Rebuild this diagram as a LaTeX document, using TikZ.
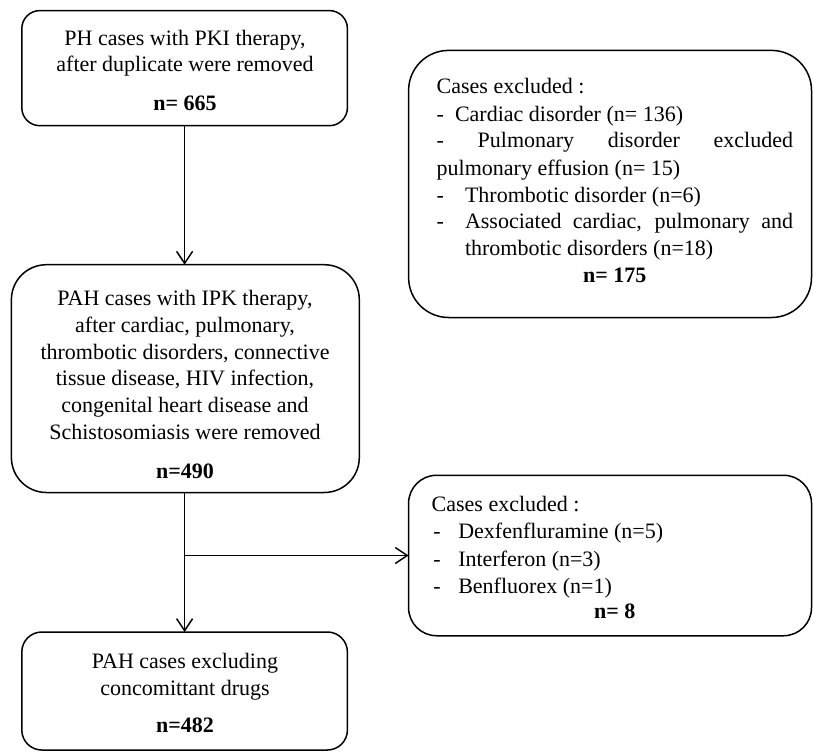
\documentclass[tikz,border=0pt]{standalone}
\usepackage{fontspec}
\setmainfont{Liberation Serif}
\usetikzlibrary{arrows.meta}
\begin{document}
\begin{tikzpicture}[x=1pt,y=-1pt,
  box/.style={draw=black, line width=1.5pt, rectangle, inner sep=0pt, outer sep=0pt},
  txt/.style={inner sep=0pt, outer sep=0pt, font=\fontsize{22}{27}\selectfont},
  bld/.style={inner sep=0pt, outer sep=0pt, font=\fontsize{22}{27}\selectfont\bfseries},
  arr/.style={line width=1.5pt, -{Straight Barb[length=12pt,width=16pt]}}]
\useasboundingbox (0,0) rectangle (813,752);

% boxes
\node[box, rounded corners=18pt, minimum width=325.6pt, minimum height=115.1pt] (b1) at (184.6,68.15) {};
\node[box, rounded corners=40pt, minimum width=402.9pt, minimum height=267.1pt] (b2) at (610.05,183.95) {};
\node[box, rounded corners=35pt, minimum width=347.9pt, minimum height=227.8pt] (b3) at (185.35,378.6) {};
\node[box, rounded corners=28pt, minimum width=402.9pt, minimum height=160.5pt] (b4) at (610.05,555.5) {};
\node[box, rounded corners=20pt, minimum width=325.6pt, minimum height=118pt] (b5) at (184.6,691) {};

% box 1 text
\node[txt, anchor=base] (t1a) at (185,45.3) {PH cases with PKI therapy,};
\node[txt, anchor=base] (t1b) at (185,71.7) {after duplicate were removed};
\node[bld, anchor=base] (t1c) at (185,110) {n= 665};

% box 2 text
\node[txt, anchor=base west] (t2a) at (436.7,93.3) {Cases excluded :};
\node[txt, anchor=base west] (t2b) at (436.7,121) {-};
\node[txt, anchor=base west] (t2bb) at (455,121) {Cardiac disorder (n= 136)};
\node[txt, anchor=base west] (t2c) at (436.7,147.8) {\makebox[356.3pt][s]{-\hfill Pulmonary\hfill disorder\hfill excluded}};
\node[txt, anchor=base west] (t2d) at (436.7,175) {pulmonary effusion (n= 15)};
\node[txt, anchor=base west] (t2e) at (436.7,202) {-};
\node[txt, anchor=base west] (t2ee) at (465,202) {Thrombotic disorder (n=6)};
\node[txt, anchor=base west] (t2f) at (436.7,228.6) {-};
\node[txt, anchor=base west] (t2ff) at (465,228.6) {\makebox[328pt][s]{Associated cardiac, pulmonary and}};
\node[txt, anchor=base west] (t2g) at (465,255) {thrombotic disorders (n=18)};
\node[bld, anchor=base] (t2h) at (614.7,282.3) {n= 175};

% box 3 text
\node[txt, anchor=base] (t3a) at (185,305.3) {PAH cases with IPK therapy,};
\node[txt, anchor=base] (t3b) at (185,332.2) {after cardiac, pulmonary,};
\node[txt, anchor=base] (t3c) at (185,359) {thrombotic disorders, connective};
\node[txt, anchor=base] (t3d) at (185,385.9) {tissue disease, HIV infection,};
\node[txt, anchor=base] (t3e) at (185,412.7) {congenital heart disease and};
\node[txt, anchor=base] (t3f) at (185,439.6) {Schistosomiasis were removed};
\node[bld, anchor=base] (t3g) at (185,478) {n=490};

% box 4 text
\node[txt, anchor=base west] (t4a) at (431.7,511) {Cases excluded :};
\node[txt, anchor=base west] (t4b) at (433.3,538.7) {-};
\node[txt, anchor=base west] (t4bb) at (458.3,538.7) {Dexfenfluramine (n=5)};
\node[txt, anchor=base west] (t4c) at (433.3,566) {-};
\node[txt, anchor=base west] (t4cc) at (458.3,566) {Interferon (n=3)};
\node[txt, anchor=base west] (t4d) at (433.3,593) {-};
\node[txt, anchor=base west] (t4dd) at (458.3,593) {Benfluorex (n=1)};
\node[bld, anchor=base] (t4e) at (614.7,618.5) {n= 8};

% box 5 text
\node[txt, anchor=base] (t5a) at (185,668) {PAH cases excluding};
\node[txt, anchor=base] (t5b) at (185,695.2) {concomittant drugs};
\node[bld, anchor=base] (t5c) at (185,732) {n=482};

% connectors
\draw[arr] (b1.south) -- (b1.south |- b3.north);
\draw[arr] (b1.south |- b3.south) -- (b1.south |- b5.north);
\coordinate (j) at (b1.south |- b4.west);
\draw[arr] (j) -- (b4.west);
\end{tikzpicture}
\end{document}
